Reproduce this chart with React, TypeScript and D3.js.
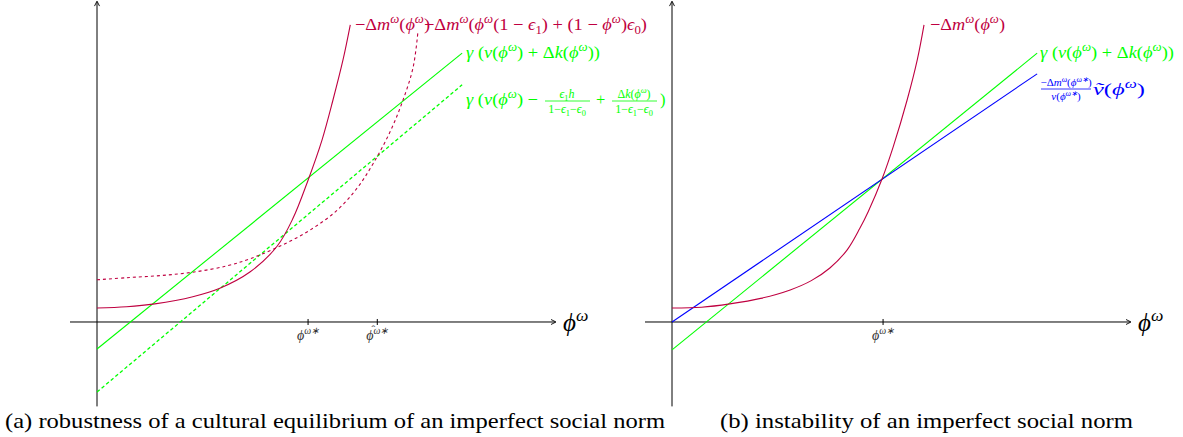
import React, { useEffect, useRef } from "react";
import * as d3 from "d3";

// ---- data (abstract units: phi on x, value on y) ----
const phiStar = 5;
const phiHat = 6.64;
const xTicksLeft = [phiStar, phiHat];
const xTicksRight = [phiStar];

const greenSolidL: [number, number][] = [[0, -0.64], [8.65, 6.37]];
const greenDashedL: [number, number][] = [[0, -1.66], [8.65, 5.62]];
const magentaSolidL: [number, number][] = [
  [0, 0.33], [0.7, 0.36], [1.37, 0.43], [2.27, 0.6], [2.91, 0.8], [3.63, 1.19],
  [4.27, 1.8], [4.64, 2.45], [5.0, 3.36], [5.33, 4.31], [5.59, 5.26], [5.83, 6.22], [6.0, 7.04],
];
const magentaDashedL: [number, number][] = [
  [0, 1.0], [0.71, 1.05], [1.5, 1.1], [2.27, 1.18], [3.08, 1.33], [3.63, 1.5],
  [4.34, 1.8], [5.05, 2.18], [5.69, 2.65], [6.16, 3.17], [6.54, 3.75], [6.94, 4.5],
  [7.25, 5.26], [7.49, 6.04], [7.6, 6.85],
];

const greenR: [number, number][] = [[0, -0.66], [8.65, 6.37]];
const blueR: [number, number][] = [[0, 0], [8.65, 5.88]];
const magentaR: [number, number][] = [
  [0, 0.33], [0.7, 0.35], [1.37, 0.43], [2.1, 0.56], [2.8, 0.76], [3.3, 0.98], [3.74, 1.28],
  [4.15, 1.71], [4.45, 2.22], [4.65, 2.62], [4.98, 3.4], [5.24, 4.15], [5.57, 5.26], [5.81, 6.21], [5.97, 7.04],
];

const captionA = "(a) robustness of a cultural equilibrium of an imperfect social norm";
const captionB = "(b) instability of an imperfect social norm";

// ---- styles ----
const PURPLE = "#BF0040";
const GREEN = "#00FF00";
const BLUE = "#0000FF";
const FONT = "Liberation Serif";

type Run = { t: string; i?: boolean; s?: "sup" | "sub" };

const yScale = d3.scaleLinear().domain([-2.0, 7.58]).range([406.4, 2.1]);
const xLeft = d3.scaleLinear().domain([-0.64, 10.85]).range([70, 555]);
const xRight = d3.scaleLinear().domain([-0.64, 10.85]).range([645, 1130]);

const dmRuns: Run[] = [
  { t: "−Δ" }, { t: "m", i: true }, { t: "ω", i: true, s: "sup" }, { t: "(" }, { t: "ϕ", i: true },
  { t: "ω", i: true, s: "sup" }, { t: ")" },
];
const dmEpsRuns: Run[] = [
  { t: "−Δ" }, { t: "m", i: true }, { t: "ω", i: true, s: "sup" }, { t: "(" }, { t: "ϕ", i: true },
  { t: "ω", i: true, s: "sup" }, { t: "(1 − " }, { t: "ϵ", i: true }, { t: "1", s: "sub" },
  { t: ") + (1 − " }, { t: "ϕ", i: true }, { t: "ω", i: true, s: "sup" }, { t: ")" }, { t: "ϵ", i: true },
  { t: "0", s: "sub" }, { t: ")" },
];
const gammaRuns: Run[] = [
  { t: "γ", i: true }, { t: " (" }, { t: "v", i: true }, { t: "(" }, { t: "ϕ", i: true }, { t: "ω", i: true, s: "sup" },
  { t: ") + Δ" }, { t: "k", i: true }, { t: "(" }, { t: "ϕ", i: true }, { t: "ω", i: true, s: "sup" }, { t: "))" },
];
const gammaStartRuns: Run[] = [
  { t: "γ", i: true }, { t: " (" }, { t: "v", i: true }, { t: "(" }, { t: "ϕ", i: true }, { t: "ω", i: true, s: "sup" },
  { t: ") −" },
];
const denRuns: Run[] = [
  { t: "1−" }, { t: "ϵ", i: true }, { t: "1", s: "sub" }, { t: "−" }, { t: "ϵ", i: true }, { t: "0", s: "sub" },
];
const tickRuns: Run[] = [{ t: "ϕ", i: true }, { t: "ω∗", i: true, s: "sup" }];

type Sel = d3.Selection<any, unknown, null, undefined>;

function mathText(g: Sel, x: number, y: number, runs: Run[], size: number, fill: string, anchor = "start", len?: number) {
  const t = g.append("text")
    .attr("x", x).attr("y", y)
    .attr("fill", fill)
    .attr("font-family", FONT)
    .attr("font-size", size)
    .attr("text-anchor", anchor)
    .style("white-space", "pre");
  if (len) t.attr("textLength", len).attr("lengthAdjust", "spacingAndGlyphs");
  let cur = 0;
  runs.forEach((r) => {
    let target = 0;
    if (r.s === "sup") target = -0.4 * size;
    if (r.s === "sub") target = 0.22 * size;
    t.append("tspan")
      .attr("dy", target - cur)
      .attr("font-family", FONT)
      .attr("font-style", r.i ? "italic" : "normal")
      .attr("font-size", r.s ? size * 0.7 : size)
      .text(r.t);
    cur = target;
  });
}

function frac(g: Sel, cx: number, barY: number, x0: number, x1: number, num: Run[], den: Run[], size: number, fill: string) {
  mathText(g, cx, barY - 3, num, size, fill, "middle");
  g.append("line").attr("x1", x0).attr("x2", x1).attr("y1", barY).attr("y2", barY)
    .attr("stroke", fill).attr("stroke-width", 0.8);
  mathText(g, cx, barY + size, den, size, fill, "middle");
}

function drawAxes(g: Sel, x: d3.ScaleLinear<number, number>, ticks: number[], hats: boolean[]) {
  const x0 = x(0);
  const y0 = yScale(0);
  const xa = x.range();
  const ya = yScale.range();
  g.append("line").attr("x1", xa[0]).attr("x2", xa[1]).attr("y1", y0).attr("y2", y0).attr("stroke", "#000");
  g.append("path").attr("d", `M${xa[1] - 4},${y0 - 2.5} L${xa[1] + 1},${y0} L${xa[1] - 4},${y0 + 2.5}`)
    .attr("fill", "none").attr("stroke", "#000").attr("stroke-width", 0.9);
  g.append("line").attr("x1", x0).attr("x2", x0).attr("y1", ya[0]).attr("y2", ya[1]).attr("stroke", "#000");
  g.append("path").attr("d", `M${x0 - 2.5},${ya[1] + 4} L${x0},${ya[1] - 1} L${x0 + 2.5},${ya[1] + 4}`)
    .attr("fill", "none").attr("stroke", "#000").attr("stroke-width", 0.9);
  ticks.forEach((t, k) => {
    g.append("line").attr("x1", x(t)).attr("x2", x(t)).attr("y1", y0 - 3).attr("y2", y0 + 3).attr("stroke", "#000");
    mathText(g, x(t), y0 + 18, tickRuns, 14, "#333", "middle");
    if (hats[k]) {
      g.append("text").attr("x", x(t) - 4).attr("y", y0 + 11).attr("font-size", 11).attr("fill", "#333")
        .attr("text-anchor", "middle").attr("font-family", FONT).text("ˆ");
    }
  });
  mathText(g, xa[1] + 8, y0 + 9, [{ t: "ϕ", i: true }, { t: "ω", i: true, s: "sup" }], 25, "#000");
}

function drawCurve(g: Sel, x: d3.ScaleLinear<number, number>, pts: [number, number][], color: string, width: number, dash?: string) {
  const gen = d3.line<[number, number]>()
    .x((d) => x(d[0]))
    .y((d) => yScale(d[1]))
    .curve(pts.length > 2 ? d3.curveCatmullRom.alpha(0.5) : d3.curveLinear);
  const p = g.append("path").attr("d", gen(pts) || "").attr("fill", "none")
    .attr("stroke", color).attr("stroke-width", width);
  if (dash) p.attr("stroke-dasharray", dash);
}

export default function App() {
  const ref = useRef<SVGSVGElement | null>(null);
  useEffect(() => {
    if (!ref.current) return;
    const svg = d3.select(ref.current);
    svg.selectAll("*").remove();
    const g = svg.append("g");
    g.append("rect").attr("width", 1183).attr("height", 437).attr("fill", "#fff");

    // left panel
    drawAxes(g, xLeft, xTicksLeft, [false, true]);
    drawCurve(g, xLeft, greenSolidL, GREEN, 1.1);
    drawCurve(g, xLeft, greenDashedL, GREEN, 1.3, "3.5,2.5");
    drawCurve(g, xLeft, magentaDashedL, PURPLE, 1.1, "3,3");
    drawCurve(g, xLeft, magentaSolidL, PURPLE, 1.1);
    mathText(g, 355, 30, dmRuns, 16.5, PURPLE, "start", 75);
    mathText(g, 424, 30, dmEpsRuns, 16.5, PURPLE, "start", 223);
    mathText(g, 466, 58, gammaRuns, 16.5, GREEN, "start", 134);
    mathText(g, 466, 105, gammaStartRuns, 16.5, GREEN, "start", 72);
    frac(g, 567, 101, 545, 590, [{ t: "ϵ", i: true }, { t: "1", s: "sub" }, { t: "h", i: true }], denRuns, 12, GREEN);
    mathText(g, 596, 105, [{ t: "+" }], 16.5, GREEN);
    frac(g, 634, 101, 612, 657,
      [{ t: "Δ" }, { t: "k", i: true }, { t: "(" }, { t: "ϕ", i: true }, { t: "ω", i: true, s: "sup" }, { t: ")" }],
      denRuns, 12, GREEN);
    mathText(g, 660, 105, [{ t: ")" }], 16.5, GREEN);

    // right panel
    drawAxes(g, xRight, xTicksRight, [false]);
    drawCurve(g, xRight, greenR, GREEN, 1.1);
    drawCurve(g, xRight, blueR, BLUE, 1.1);
    drawCurve(g, xRight, magentaR, PURPLE, 1.1);
    mathText(g, 930, 30, dmRuns, 16.5, PURPLE, "start", 75);
    mathText(g, 1040, 58, gammaRuns, 16.5, GREEN, "start", 134);
    frac(g, 1066, 89, 1041, 1091,
      [{ t: "−Δ" }, { t: "m", i: true }, { t: "ω", i: true, s: "sup" }, { t: "(" }, { t: "ϕ", i: true }, { t: "ω∗", i: true, s: "sup" }, { t: ")" }],
      [{ t: "v", i: true }, { t: "(" }, { t: "ϕ", i: true }, { t: "ω∗", i: true, s: "sup" }, { t: ")" }],
      11, BLUE);
    mathText(g, 1093, 95, [{ t: "ṽ", i: true }, { t: "(" }, { t: "ϕ", i: true }, { t: "ω", i: true, s: "sup" }, { t: ")" }], 16.5, BLUE, "start", 52);

    // captions
    g.append("text").attr("x", 5).attr("y", 428).attr("font-size", 21).attr("font-family", FONT)
      .attr("textLength", 660).attr("lengthAdjust", "spacingAndGlyphs").attr("fill", "#000").text(captionA);
    g.append("text").attr("x", 720).attr("y", 428).attr("font-size", 21).attr("font-family", FONT)
      .attr("textLength", 413).attr("lengthAdjust", "spacingAndGlyphs").attr("fill", "#000").text(captionB);
  }, []);

  return (
    <div style={{ position: "absolute", left: 0, top: 0, width: 1183, height: 437, background: "#fff" }}>
      <svg ref={ref} width={1183} height={437} style={{ display: "block" }} />
    </div>
  );
}
